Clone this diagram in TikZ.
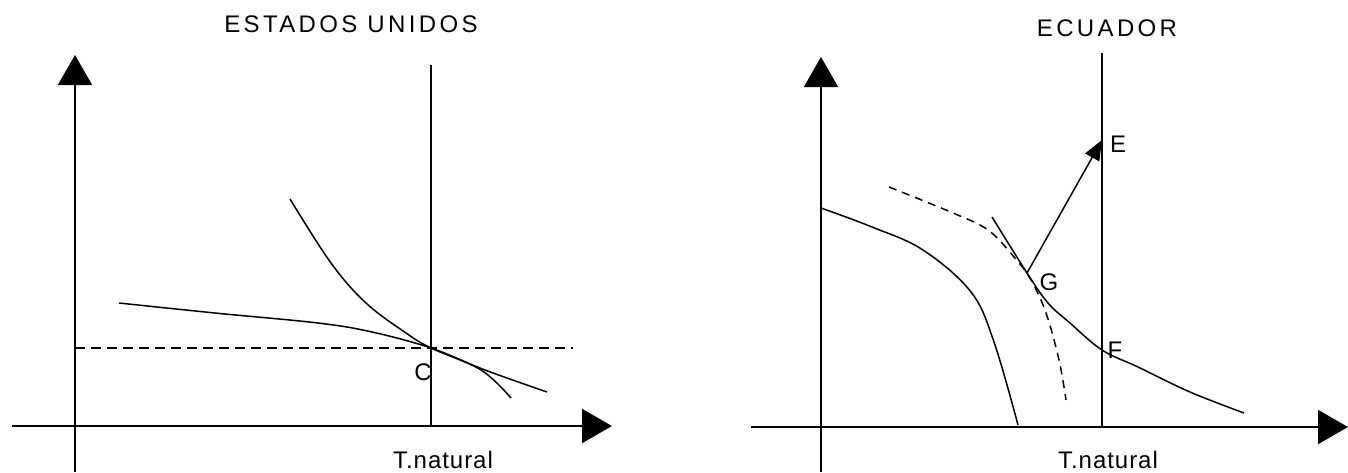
\documentclass[tikz,border=0pt]{standalone}
\usepackage{fontspec}
\setmainfont{Liberation Sans}
\newfontfamily\widefont[LetterSpace=14]{Liberation Sans}
\newfontfamily\tnatfont[LetterSpace=4]{Liberation Sans}
\usetikzlibrary{arrows.meta}
\tikzstyle{axis} = [line width=1pt, -{Triangle[length=15pt,width=17pt]}]
\tikzstyle{level} = [line width=1pt]
\tikzstyle{curve} = [line width=0.75pt]
\tikzstyle{lbl} = [inner sep=0pt, font=\fontsize{12}{14}\selectfont]
\tikzstyle{heading} = [inner sep=0pt, font=\fontsize{12}{14}\selectfont\widefont]
\tikzstyle{tnat} = [inner sep=0pt, font=\fontsize{12}{14}\selectfont\tnatfont]

\begin{document}
\begin{tikzpicture}[x=0.5pt,y=-0.5pt]
\useasboundingbox (0,0) rectangle (1348,472);
% Estados Unidos
\coordinate (ybot1) at (75,472);
\coordinate (ytop1) at (75,55);
\coordinate (xl1) at (12,426);
\coordinate (xr1) at (612,426);
\coordinate (ntop1) at (431,65);
\coordinate (nbot1) at (431,426);
\coordinate (dl) at (75,348);
\coordinate (dr) at (573,348);
\draw[axis] (ybot1) -- (ytop1);
\draw[axis] (xl1) -- (xr1);
\draw[level] (ntop1) -- (nbot1);
\draw[line width=0.8pt, dash pattern=on 5pt off 3pt] (dl) -- (dr);
\draw[curve] plot[smooth, tension=0.6] coordinates {(119,303) (215,313) (318,323) (372,332) (431,348) (485,370) (547,392)};
\draw[curve] plot[smooth, tension=0.6] coordinates {(290,199) (331,263) (366,303) (406,333) (431,348) (481,370) (511,398)};
\node[heading] (us) at (351,24) {ESTADOS UNIDOS};
\node[lbl] (c) at (423,372) {C};
\node[tnat] (tn1) at (443,460) {T.natural};
% Ecuador
\coordinate (ybot2) at (821,472);
\coordinate (ytop2) at (821,57);
\coordinate (xl2) at (751,427);
\coordinate (xr2) at (1348,427);
\coordinate (ntop2) at (1102,53);
\coordinate (nbot2) at (1102,427);
\coordinate (g) at (1027,273);
\coordinate (e) at (1102,140);
\draw[axis] (ybot2) -- (ytop2);
\draw[axis] (xl2) -- (xr2);
\draw[level] (ntop2) -- (nbot2);
\draw[curve] plot[smooth, tension=0.6] coordinates {(821,208) (872,227) (923,250) (971,292) (994,342) (1018,425)};
\draw[curve] plot[smooth, tension=0.6] coordinates {(992,217) (1027,273) (1048,303) (1070,323) (1102,350) (1138,367) (1190,392) (1244,413)};
\draw[curve, dash pattern=on 4pt off 3pt] plot[smooth, tension=0.6] coordinates {(889,187) (953,213) (988,230) (1014,257) (1031,280) (1046,313) (1059,360) (1066,400)};
\draw[curve, -{Triangle[length=10pt,width=8pt]}] (g) -- (e);
\node[heading] (ec) at (1107,28) {ECUADOR};
\node[lbl] (el) at (1118,144) {E};
\node[lbl] (gl) at (1049,282) {G};
\node[lbl] (fl) at (1115,350) {F};
\node[tnat] (tn2) at (1108,460) {T.natural};
\end{tikzpicture}
\end{document}
